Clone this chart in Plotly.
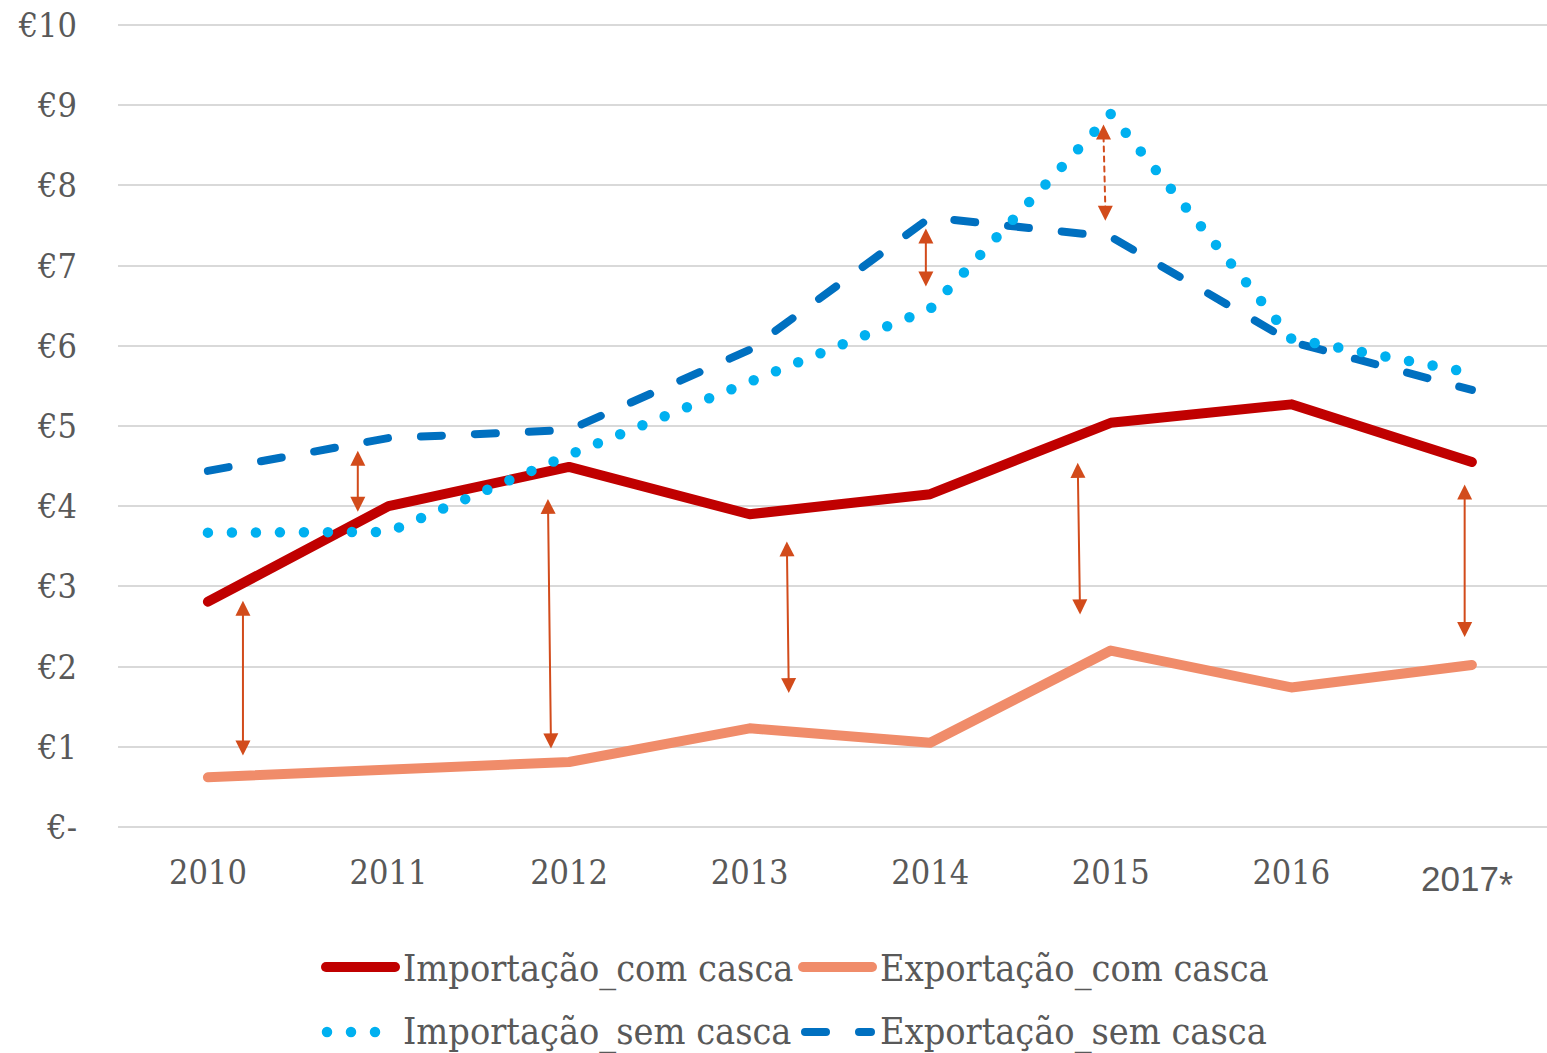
import plotly.graph_objects as go

# ---------------- data ----------------
categories = ["2010", "2011", "2012", "2013", "2014", "2015", "2016", "2017*"]
imp_com_casca = [2.81, 4.00, 4.49, 3.90, 4.15, 5.04, 5.27, 4.55]
exp_com_casca = [0.62, 0.73, 0.81, 1.23, 1.05, 2.20, 1.74, 2.02]
imp_sem_casca = [3.67, 3.68, 4.64, 5.54, 6.46, 8.89, 6.09, 5.66]
exp_sem_casca = [4.44, 4.85, 4.95, 5.95, 7.60, 7.36, 6.05, 5.45]
series_names = ["Importação_com casca", "Exportação_com casca",
                "Importação_sem casca", "Exportação_sem casca"]
y_tick_values = [0, 1, 2, 3, 4, 5, 6, 7, 8, 9, 10]
y_tick_labels = ["€-", "€1", "€2", "€3", "€4", "€5", "€6", "€7", "€8", "€9", "€10"]

# gap arrows: (x_top, y_top, x_bottom, y_bottom, dashed) in category-index / value units
gap_arrows = [
    (0.194, 2.84, 0.194, 0.89, False),
    (0.830, 4.71, 0.830, 3.93, False),
    (1.883, 4.11, 1.900, 0.98, False),
    (3.206, 3.58, 3.217, 1.67, False),
    (3.976, 7.48, 3.976, 6.74, False),
    (4.817, 4.56, 4.830, 2.65, False),
    (4.960, 8.76, 4.970, 7.56, True),
    (6.960, 4.29, 6.960, 2.37, False),
]

# ---------------- styling ----------------
W, H = 1547, 1053
ML, MR, MT, MB = 118, 0, 23, 224
PW, PH = W - ML - MR, H - MT - MB
TXT = "#595959"
SERIF = "DejaVu Serif Condensed, DejaVu Serif, serif"
SANS = "Liberation Sans, Arial, sans-serif"
ARROW_C = "#D24B1B"

styles = [
    dict(color="#C00000", width=10, dash="solid"),
    dict(color="#F08C6A", width=10, dash="solid"),
    dict(color="#00B0F0", width=10.5, dash="0px,24px"),
    dict(color="#0070C0", width=8, dash="21px,33px"),
]
all_series = [imp_com_casca, exp_com_casca, imp_sem_casca, exp_sem_casca]


def px_x(px):
    return (px - ML) / PW


def px_y(py):
    return (H - MB - py) / PH


xidx = list(range(len(categories)))
fig = go.Figure()
for i in [0, 1, 3, 2]:
    fig.add_trace(go.Scatter(
        x=xidx, y=all_series[i], name=series_names[i], mode="lines",
        line=dict(color=styles[i]["color"], width=styles[i]["width"],
                  dash=styles[i]["dash"]),
        showlegend=False, hoverinfo="skip"))

annotations = []
shapes = []

# gap arrows
for xt, yt, xb, yb, dashed in gap_arrows:
    if not dashed:
        annotations.append(dict(
            x=xb, y=yb, ax=xt, ay=yt, xref="x", yref="y", axref="x", ayref="y",
            text="", showarrow=True, arrowside="end+start",
            arrowhead=2, startarrowhead=2, arrowsize=1.5, startarrowsize=1.5,
            arrowwidth=2, arrowcolor=ARROW_C, standoff=0, startstandoff=0))
    else:
        shapes.append(dict(type="line", xref="x", yref="y", x0=xt, y0=yt - 0.15,
                           x1=xb, y1=yb + 0.15,
                           line=dict(color=ARROW_C, width=2, dash="5px,5px")))
        annotations.append(dict(x=xt, y=yt, xref="x", yref="y",
                                ax=xt, ay=yt - 0.2, axref="x", ayref="y",
                                text="", showarrow=True, arrowhead=2, arrowsize=1.5,
                                arrowwidth=2, arrowcolor=ARROW_C, standoff=0))
        annotations.append(dict(x=xb, y=yb, xref="x", yref="y",
                                ax=xb, ay=yb + 0.2, axref="x", ayref="y",
                                text="", showarrow=True, arrowhead=2, arrowsize=1.5,
                                arrowwidth=2, arrowcolor=ARROW_C, standoff=0))

# last category label (different font / placement in the original)
annotations.append(dict(
    x=len(categories) - 1, xref="x", y=px_y(882), yref="paper",
    text=categories[-1].replace("*", "<sub><span style=\"font-size:36px\">*</span></sub>"),
    showarrow=False, xanchor="center", yanchor="middle", xshift=-5,
    font=dict(family=SANS, size=35, color=TXT)))

# custom legend (2 x 2)
legend_layout = [  # (row_y_px, sample_x0, sample_x1, text_x, text_y)
    (967, 326, 395, 401, 968),
    (967, 803, 872, 878, 968),
    (1032, 327, 375.5, 401, 1031),
    (1032, 805, 871, 878, 1031),
]
for i, (ry, sx0, sx1, tx, ty) in enumerate(legend_layout):
    st = styles[i]
    shapes.append(dict(type="line", xref="paper", yref="paper",
                       x0=px_x(sx0), x1=px_x(sx1), y0=px_y(ry), y1=px_y(ry),
                       line=dict(color=st["color"], width=st["width"], dash=st["dash"])))
    annotations.append(dict(x=px_x(tx), y=px_y(ty), xref="paper", yref="paper",
                            text=series_names[i], showarrow=False,
                            xanchor="left", yanchor="middle",
                            font=dict(family=SERIF, size=37.5, color=TXT)))

fig.update_layout(
    width=W, height=H,
    margin=dict(l=ML, r=MR, t=MT, b=MB, pad=0),
    paper_bgcolor="white", plot_bgcolor="white",
    showlegend=False,
    font=dict(family=SERIF, color=TXT, size=34),
    xaxis=dict(range=[-0.498, 7.416], tickmode="array", tickvals=xidx[:-1],
               ticktext=categories[:-1], showgrid=False, zeroline=False,
               showline=False, ticks="", ticklabelstandoff=20,
               tickfont=dict(family=SERIF, size=34, color=TXT), fixedrange=True),
    yaxis=dict(range=[-0.025, 10.025], tickmode="array", tickvals=y_tick_values,
               ticktext=y_tick_labels, showgrid=True, gridcolor="#D9D9D9",
               gridwidth=1.5, zeroline=False, showline=False, ticks="",
               ticklabelstandoff=40,
               tickfont=dict(family=SERIF, size=34, color=TXT), fixedrange=True),
    shapes=shapes, annotations=annotations,
)

post = ("document.body.style.margin = '0';"
        "document.body.style.overflow = 'hidden';"
        "document.querySelectorAll('.scatterlayer path.js-line, .shapelayer path')"
        ".forEach(p => p.style.strokeLinecap = 'round');"
        "document.querySelectorAll('.scatterlayer path.js-line, .shapelayer path')"
        ".forEach(p => p.style.strokeLinejoin = 'round');")

fig.write_html("out.html", post_script=post, config={"displayModeBar": False})
